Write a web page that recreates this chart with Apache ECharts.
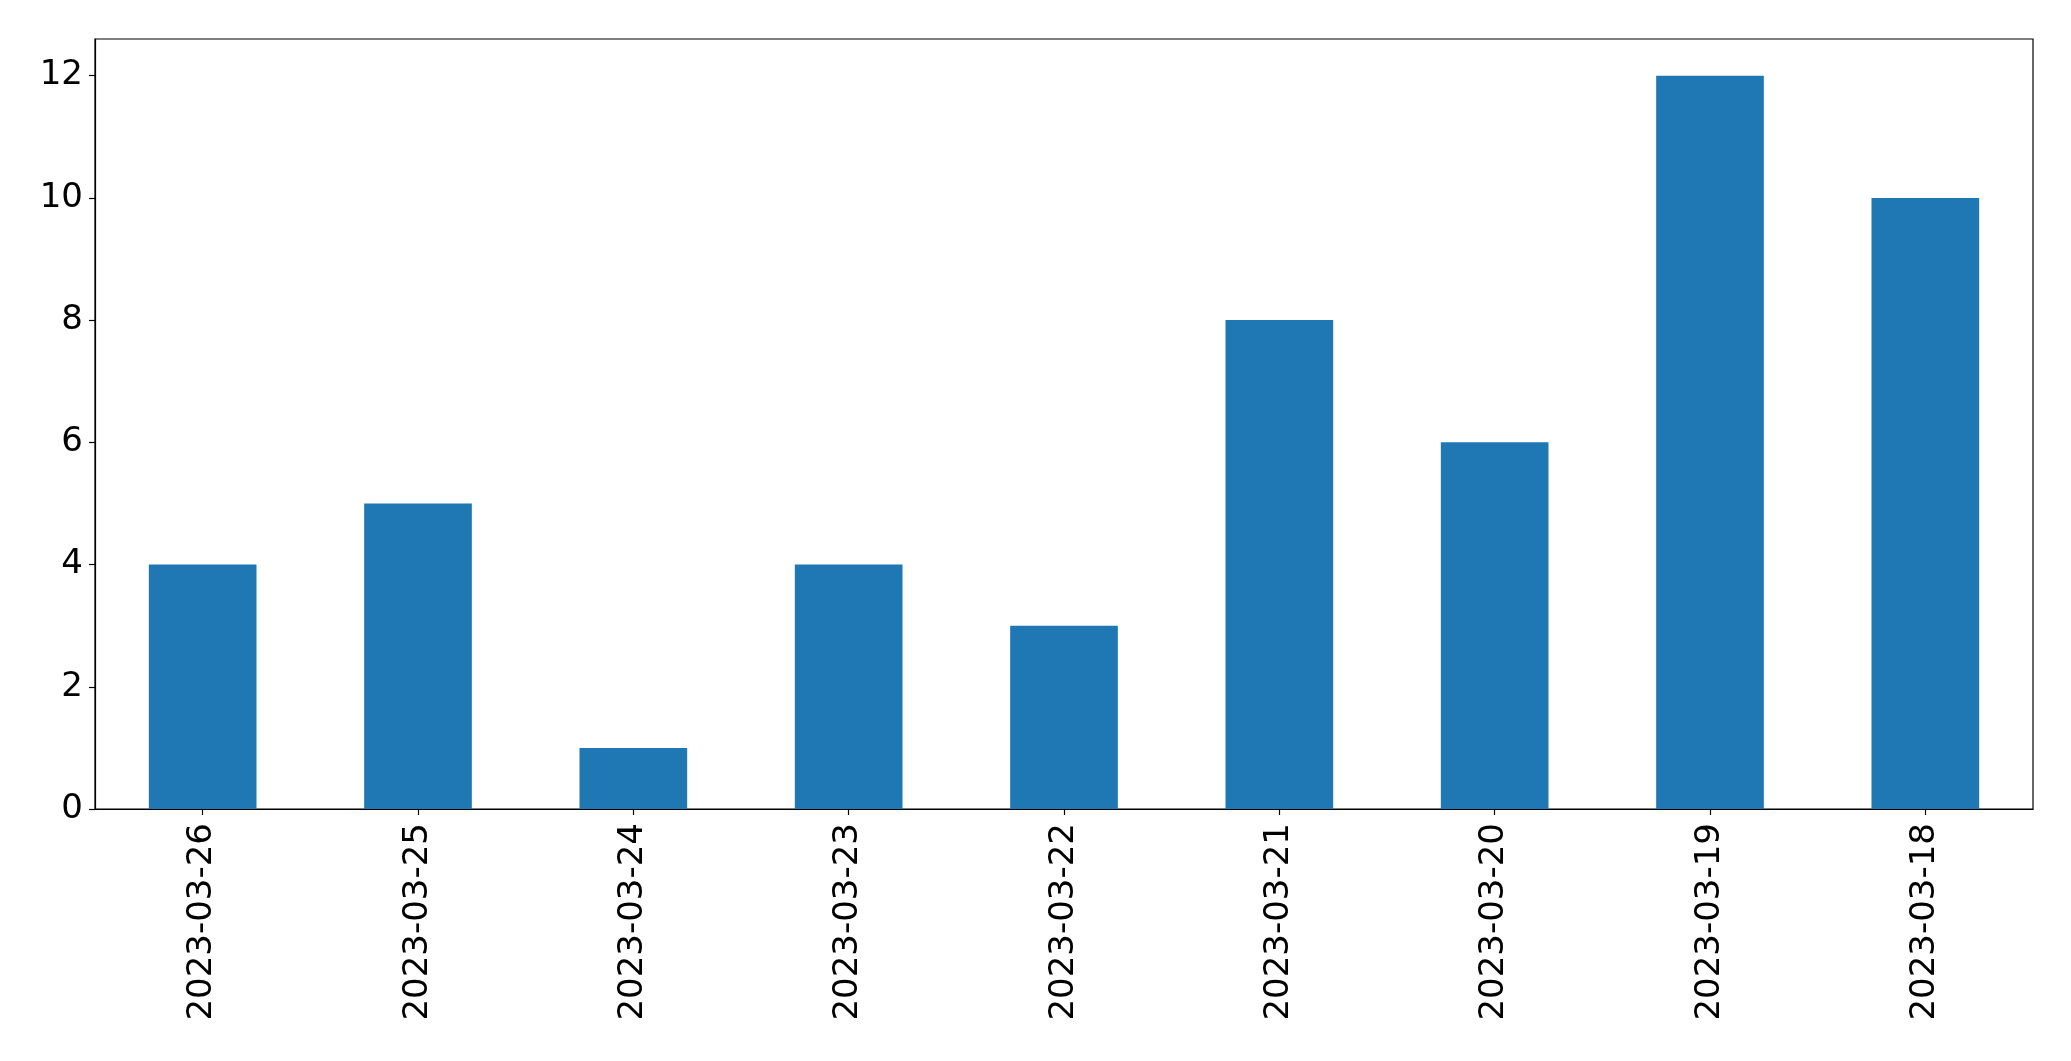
<!DOCTYPE html>
<html>
<head>
<meta charset="utf-8">
<script src="https://cdn.jsdelivr.net/npm/echarts@6/dist/echarts.min.js"></script>
<style>html,body{margin:0;padding:0;background:#fff;}#c{width:2071px;height:1061px;}</style>
</head>
<body>
<div id="c"></div>
<script>
const categories = ["2023-03-26","2023-03-25","2023-03-24","2023-03-23","2023-03-22","2023-03-21","2023-03-20","2023-03-19","2023-03-18"];
const values = [4,5,1,4,3,8,6,12,10];
const yTicks = [0,2,4,6,8,10,12];

const chart = echarts.init(document.getElementById('c'), null, {renderer:'canvas'});
const font = '"DejaVu Sans", sans-serif';
chart.setOption({
  animation: false,
  backgroundColor: '#fff',
  grid: {left: 95, top: 39, right: 38, bottom: 252, show: true, borderColor: '#000', borderWidth: 1.2, containLabel: false},
  xAxis: {
    type: 'category',
    data: categories,
    boundaryGap: true,
    axisLine: {show: true, lineStyle: {color: '#000', width: 1.2}},
    axisTick: {show: true, alignWithLabel: true, length: 6, lineStyle: {color: '#000', width: 1.2}},
    axisLabel: {rotate: 90, margin: 14, color: '#000', fontSize: 34, fontFamily: font, interval: 0}
  },
  yAxis: {
    type: 'value',
    min: 0, max: 12.6, interval: 2,
    splitLine: {show: false},
    axisLine: {show: true, lineStyle: {color: '#000', width: 1.2}},
    axisTick: {show: true, length: 6, lineStyle: {color: '#000', width: 1.2}, customValues: yTicks},
    axisLabel: {margin: 12, color: '#000', fontSize: 34, fontFamily: font, customValues: yTicks}
  },
  series: [{
    type: 'bar',
    data: values,
    barWidth: '50%',
    itemStyle: {color: '#1f77b4'}
  }]
});
</script>
</body>
</html>
